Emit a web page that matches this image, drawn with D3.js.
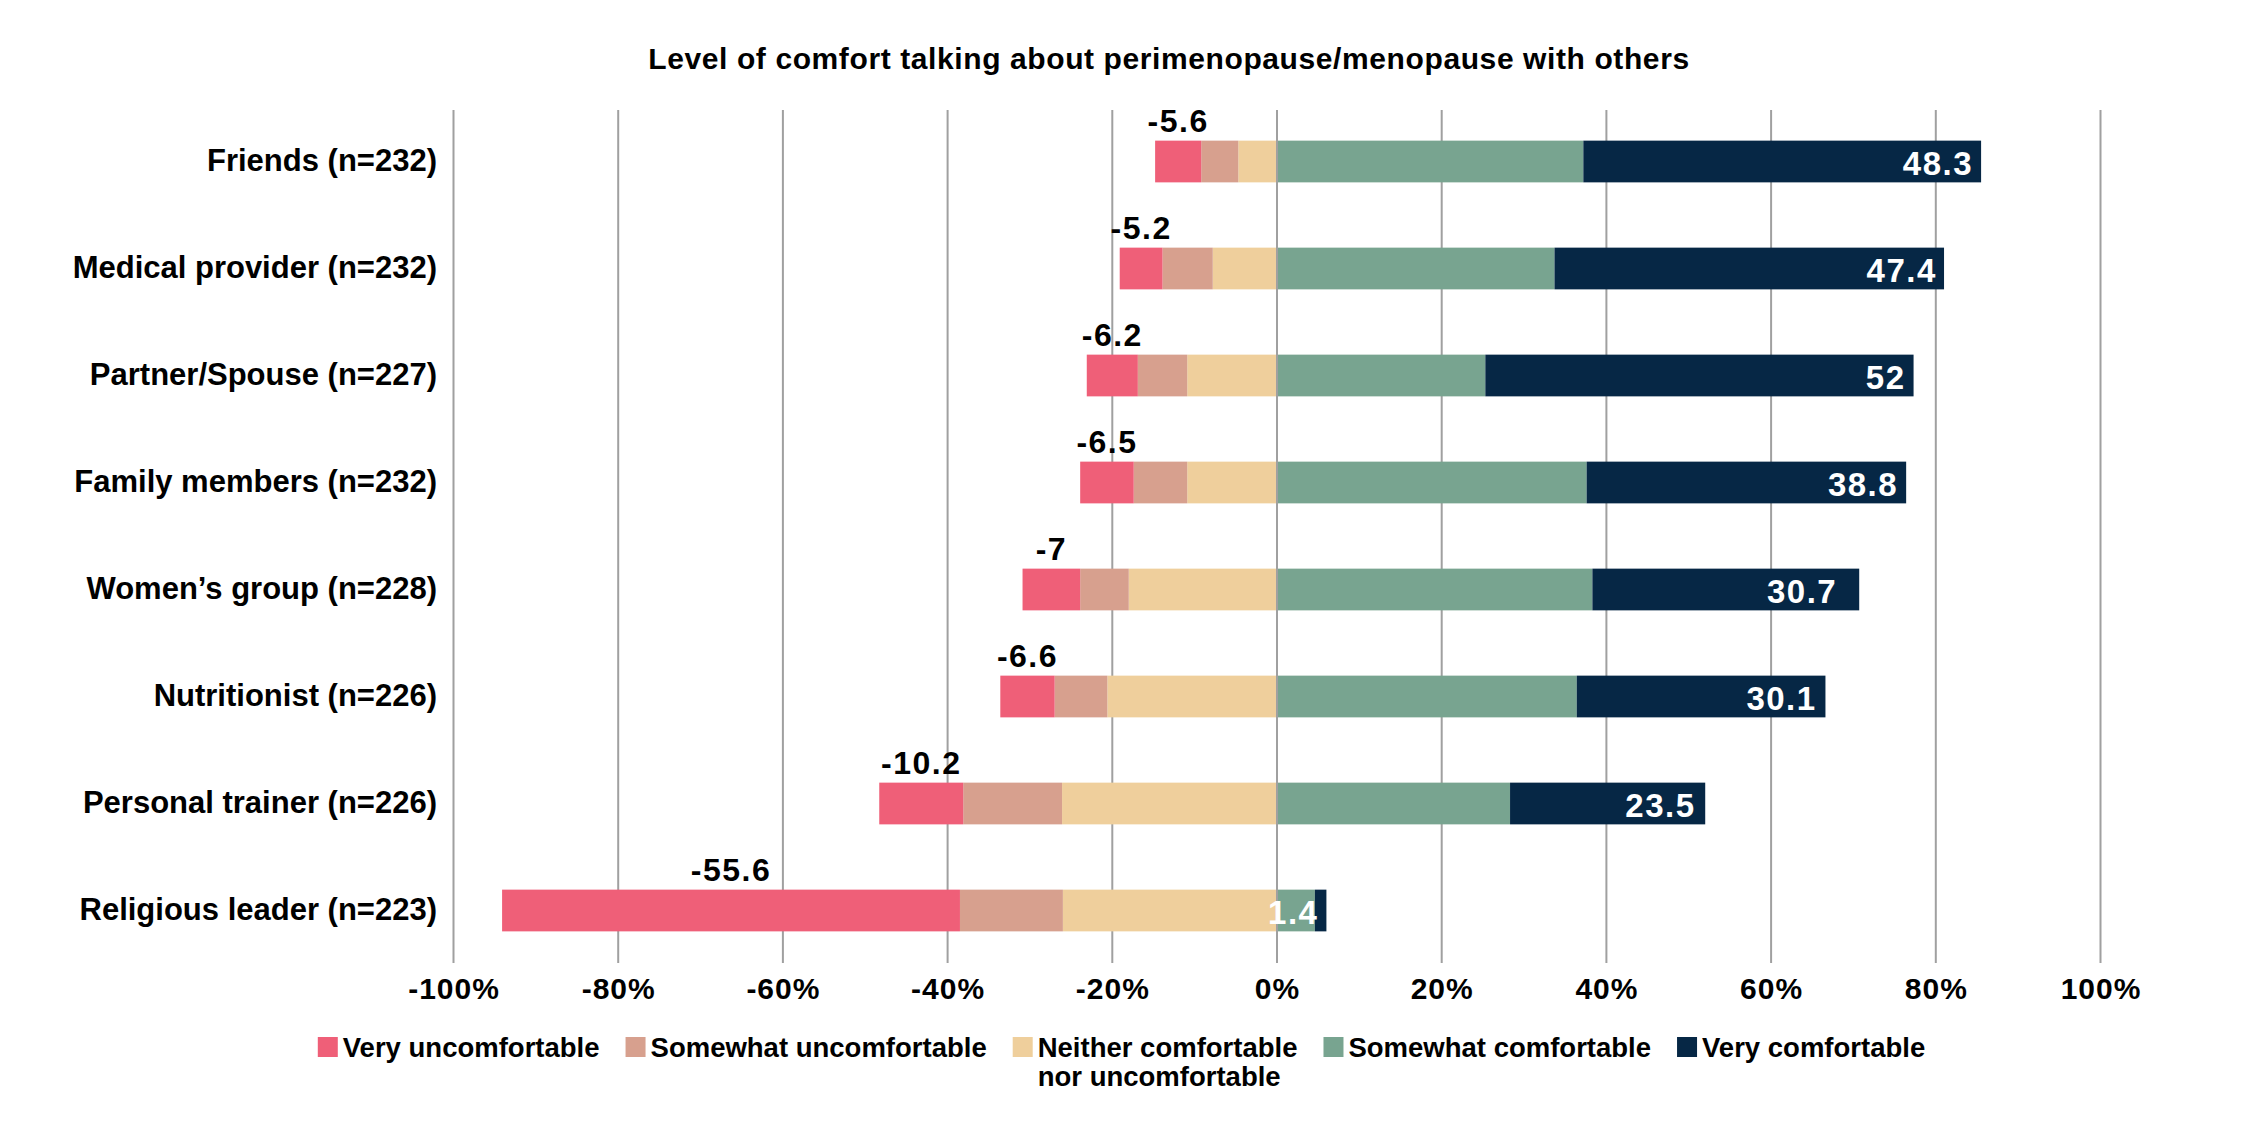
<!DOCTYPE html>
<html>
<head>
<meta charset="utf-8">
<script src="https://cdn.jsdelivr.net/npm/d3@7/dist/d3.min.js"></script>
<style>
  html, body { margin: 0; padding: 0; background: #fff; }
  svg { display: block; }
  text { font-family: "Liberation Sans", Arial, Helvetica, sans-serif; font-weight: bold; fill: #000; }
</style>
</head>
<body>
<svg id="chart" width="2243" height="1129"></svg>
<script>
const title = "Level of comfort talking about perimenopause/menopause with others";
const categories = [
  "Friends (n=232)",
  "Medical provider (n=232)",
  "Partner/Spouse (n=227)",
  "Family members (n=232)",
  "Women’s group (n=228)",
  "Nutritionist (n=226)",
  "Personal trainer (n=226)",
  "Religious leader (n=223)"
];
const veryUncomfortable     = [5.6, 5.2, 6.2, 6.5, 7.0, 6.6, 10.2, 55.6];
const somewhatUncomfortable = [4.5, 6.1, 6.0, 6.5, 5.9, 6.4, 12.0, 12.5];
const neither               = [4.7, 7.8, 10.9, 10.9, 18.0, 20.6, 26.1, 26.0];
const somewhatComfortable   = [37.2, 33.7, 25.3, 37.6, 38.3, 36.4, 28.3, 4.6];
const veryComfortable       = [48.3, 47.3, 52.0, 38.8, 32.4, 30.2, 23.7, 1.4];
const negLabels = ["-5.6", "-5.2", "-6.2", "-6.5", "-7", "-6.6", "-10.2", "-55.6"];
const posLabels = ["48.3", "47.4", "52", "38.8", "30.7", "30.1", "23.5", "1.4"];
const xTicks = [-100, -80, -60, -40, -20, 0, 20, 40, 60, 80, 100];
const seriesNames = ["Very uncomfortable", "Somewhat uncomfortable", "Neither comfortable\nnor uncomfortable", "Somewhat comfortable", "Very comfortable"];
const seriesColors = ["#EF5F78", "#D7A08E", "#EFCF9C", "#78A490", "#062745"];

const svg = d3.select("#chart");
const W = 2243, H = 1129;

const x = d3.scaleLinear().domain([-100, 100]).range([453.5, 2100.5]);
const y = d3.scaleBand().domain(categories).range([108, 964]).paddingInner(0.61).paddingOuter(0.305);
const gridTop = 110, gridBottom = 963;

// title
svg.append("text")
  .attr("x", 1169).attr("y", 69)
  .attr("text-anchor", "middle")
  .style("font-size", "30px")
  .style("letter-spacing", "0.6px")
  .text(title);

// gridlines
const grid = svg.append("g");
grid.selectAll("line").data(xTicks).join("line")
  .attr("x1", d => x(d)).attr("x2", d => x(d))
  .attr("y1", gridTop).attr("y2", gridBottom)
  .attr("stroke", "#a0a0a0").attr("stroke-width", 2);

// x tick labels via axis
const xAxis = d3.axisBottom(x).tickValues(xTicks).tickSize(0).tickPadding(0).tickFormat(d => d + "%");
const ax = svg.append("g").attr("transform", `translate(0, ${gridBottom})`).call(xAxis);
ax.select(".domain").remove();
ax.selectAll("text")
  .attr("y", 36).attr("dy", null)
  .style("font-size", "30px")
  .style("letter-spacing", "1px")
  .style("font-family", "'Liberation Sans', Arial, sans-serif")
  .style("font-weight", "bold")
  .attr("fill", "#000");

// category labels via axis
const yAxis = d3.axisLeft(y).tickSize(0).tickPadding(0);
const ay = svg.append("g").attr("transform", `translate(437, 0)`).call(yAxis);
ay.select(".domain").remove();
ay.selectAll("text")
  .attr("dy", "0.3em")
  .style("font-size", "31px")
  .style("font-family", "'Liberation Sans', Arial, sans-serif")
  .style("font-weight", "bold")
  .attr("fill", "#000");

// build stacked segments
const rows = categories.map((c, i) => {
  const segs = [];
  let n0 = 0;
  const negVals = [[2, neither[i]], [1, somewhatUncomfortable[i]], [0, veryUncomfortable[i]]];
  negVals.forEach(([k, v]) => { segs.push({ cat: c, k, x0: n0 - v, x1: n0 }); n0 -= v; });
  let p0 = 0;
  const posVals = [[3, somewhatComfortable[i]], [4, veryComfortable[i]]];
  posVals.forEach(([k, v]) => { segs.push({ cat: c, k, x0: p0, x1: p0 + v }); p0 += v; });
  return segs;
}).flat();

svg.append("g").selectAll("rect").data(rows).join("rect")
  .attr("x", d => x(d.x0))
  .attr("width", d => x(d.x1) - x(d.x0))
  .attr("y", d => y(d.cat))
  .attr("height", y.bandwidth())
  .attr("fill", d => seriesColors[d.k]);

// zero line on top
svg.append("line")
  .attr("x1", x(0)).attr("x2", x(0))
  .attr("y1", gridTop).attr("y2", gridBottom)
  .attr("stroke", "#a0a0a0").attr("stroke-width", 2);

// negative labels (above very uncomfortable segment)
svg.append("g").selectAll("text").data(categories).join("text")
  .attr("x", (c, i) => {
    const inner = -(neither[i] + somewhatUncomfortable[i]);
    const outer = inner - veryUncomfortable[i];
    return (x(inner) + x(outer)) / 2;
  })
  .attr("y", c => y(c) - 9)
  .attr("text-anchor", "middle")
  .style("font-size", "32px")
  .style("letter-spacing", "1.5px")
  .text((c, i) => negLabels[i]);

// positive labels (inside very comfortable segment, right aligned)
svg.append("g").selectAll("text").data(categories).join("text")
  .attr("x", (c, i) => x(somewhatComfortable[i] + parseFloat(posLabels[i])) - 8)
  .attr("y", c => y(c) + y.bandwidth() / 2 + 13)
  .attr("text-anchor", "end")
  .style("font-size", "33px")
  .style("letter-spacing", "1.5px")
  .style("fill", "#fff")
  .text((c, i) => posLabels[i]);

// legend
const legend = svg.append("g");
const sw = 20, swGap = 5, itemGap = 26, legFont = 27.5, lineH = 29;
const items = legend.selectAll("g").data(seriesNames).join("g");
items.append("rect")
  .attr("width", sw).attr("height", sw)
  .attr("y", -sw / 2)
  .attr("fill", (d, i) => seriesColors[i]);
items.each(function(d) {
  const g = d3.select(this);
  const t = g.append("text").attr("x", sw + swGap).attr("y", 0.36 * legFont).style("font-size", legFont + "px");
  d.split("\n").forEach((line, j) => {
    t.append("tspan").attr("x", sw + swGap).attr("dy", j === 0 ? 0 : lineH).text(line);
  });
});
const widths = [];
items.each(function() { widths.push(this.getBBox().width); });
const total = d3.sum(widths) + itemGap * (widths.length - 1);
let cx = W / 2 - total / 2;
items.attr("transform", (d, i) => {
  const tx = cx; cx += widths[i] + itemGap;
  return `translate(${tx}, 1047)`;
});
</script>
</body>
</html>
